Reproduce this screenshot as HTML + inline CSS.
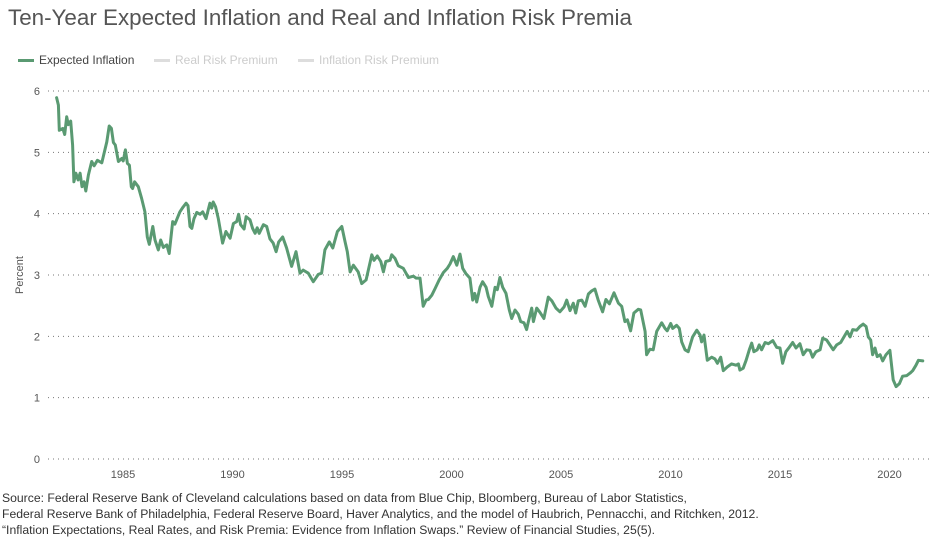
<!DOCTYPE html>
<html><head><meta charset="utf-8"><style>
body{margin:0;background:#fff;font-family:"Liberation Sans",Arial,sans-serif}
#wrap{position:relative;width:950px;height:540px;overflow:hidden}
.t{position:absolute;white-space:nowrap}
</style></head><body>
<div id="wrap">
<div class="t" style="left:8px;top:5px;font-size:22.4px;color:#555">Ten-Year Expected Inflation and Real and Inflation Risk Premia</div>
<div class="t" style="left:18px;top:53px;font-size:12px;color:#444"><span style="display:inline-block;width:16px;height:3px;background:#5a9a72;vertical-align:middle;margin-right:5px"></span>Expected Inflation</div>
<div class="t" style="left:154px;top:53px;font-size:12px;color:#ccc"><span style="display:inline-block;width:16px;height:3px;background:#ddd;vertical-align:middle;margin-right:5px"></span>Real Risk Premium</div>
<div class="t" style="left:298px;top:53px;font-size:12px;color:#ccc"><span style="display:inline-block;width:16px;height:3px;background:#ddd;vertical-align:middle;margin-right:5px"></span>Inflation Risk Premium</div>
<svg id="chart" width="950" height="540" style="position:absolute;left:0;top:0"></svg>
<div class="t" style="left:2px;top:490px;font-size:12.2px;line-height:16px;color:#333">Source: Federal Reserve Bank of Cleveland calculations based on data from Blue Chip, Bloomberg, Bureau of Labor Statistics,<br>Federal Reserve Bank of Philadelphia, Federal Reserve Board, Haver Analytics, and the model of Haubrich, Pennacchi, and Ritchken, 2012.<br>“Inflation Expectations, Real Rates, and Risk Premia: Evidence from Inflation Swaps.” Review of Financial Studies, 25(5).</div>
</div>
<script>
const years=[1981.97,1982.05,1982.09,1982.25,1982.34,1982.43,1982.50,1982.61,1982.70,1982.76,1982.85,1982.95,1983.04,1983.13,1983.22,1983.30,1983.42,1983.57,1983.68,1983.83,1984.03,1984.26,1984.37,1984.47,1984.56,1984.65,1984.79,1984.94,1985.01,1985.11,1985.20,1985.29,1985.38,1985.44,1985.53,1985.70,1985.85,1986.00,1986.11,1986.20,1986.36,1986.46,1986.61,1986.72,1986.84,1987.00,1987.11,1987.27,1987.37,1987.60,1987.75,1987.88,1987.97,1988.06,1988.14,1988.24,1988.37,1988.52,1988.64,1988.79,1988.97,1989.05,1989.12,1989.23,1989.35,1989.55,1989.70,1989.89,1990.04,1990.19,1990.28,1990.37,1990.53,1990.62,1990.80,1990.92,1991.03,1991.13,1991.22,1991.41,1991.56,1991.71,1991.86,1991.99,1992.11,1992.29,1992.47,1992.70,1992.90,1993.08,1993.23,1993.46,1993.69,1993.92,1994.07,1994.22,1994.42,1994.58,1994.79,1994.99,1995.14,1995.24,1995.37,1995.52,1995.74,1995.90,1996.10,1996.36,1996.46,1996.61,1996.77,1996.89,1997.00,1997.19,1997.27,1997.42,1997.57,1997.80,1998.03,1998.26,1998.38,1998.56,1998.71,1998.84,1998.94,1999.10,1999.25,1999.44,1999.63,1999.81,1999.93,2000.08,2000.24,2000.39,2000.51,2000.66,2000.84,2000.97,2001.06,2001.15,2001.30,2001.42,2001.58,2001.68,2001.84,2001.99,2002.09,2002.21,2002.34,2002.49,2002.64,2002.75,2002.90,2003.05,2003.16,2003.31,2003.43,2003.51,2003.66,2003.74,2003.89,2004.04,2004.22,2004.42,2004.58,2004.77,2004.95,2005.14,2005.26,2005.41,2005.56,2005.67,2005.79,2005.95,2006.10,2006.25,2006.40,2006.55,2006.70,2006.90,2007.05,2007.21,2007.42,2007.62,2007.77,2007.92,2008.03,2008.18,2008.33,2008.53,2008.64,2008.84,2008.91,2009.06,2009.21,2009.37,2009.60,2009.75,2009.85,2010.01,2010.10,2010.28,2010.40,2010.51,2010.66,2010.81,2011.01,2011.20,2011.35,2011.42,2011.53,2011.68,2011.88,2012.03,2012.14,2012.29,2012.41,2012.59,2012.79,2012.99,2013.10,2013.17,2013.32,2013.45,2013.60,2013.71,2013.81,2013.96,2014.05,2014.16,2014.32,2014.47,2014.67,2014.85,2015.00,2015.12,2015.27,2015.42,2015.58,2015.73,2015.91,2016.06,2016.22,2016.37,2016.49,2016.64,2016.83,2016.95,2017.13,2017.28,2017.43,2017.59,2017.77,2017.97,2018.07,2018.20,2018.32,2018.50,2018.65,2018.80,2018.93,2019.03,2019.14,2019.23,2019.34,2019.44,2019.57,2019.69,2019.84,2020.02,2020.17,2020.30,2020.45,2020.60,2020.79,2020.94,2021.06,2021.21,2021.32,2021.52];
const expectedInflation=[5.89,5.77,5.36,5.39,5.29,5.58,5.45,5.51,5.12,4.52,4.66,4.55,4.66,4.44,4.52,4.37,4.63,4.85,4.78,4.87,4.83,5.17,5.43,5.39,5.16,5.12,4.85,4.90,4.86,5.04,4.82,4.79,4.44,4.41,4.52,4.44,4.25,4.03,3.62,3.50,3.79,3.57,3.41,3.57,3.45,3.49,3.35,3.87,3.83,4.03,4.11,4.17,4.13,3.79,3.76,3.92,4.02,3.99,4.03,3.92,4.17,4.09,4.19,4.11,3.92,3.52,3.71,3.60,3.84,3.87,3.99,3.82,3.75,3.95,3.90,3.76,3.68,3.77,3.68,3.82,3.79,3.59,3.52,3.38,3.54,3.62,3.44,3.14,3.38,3.03,3.08,3.03,2.89,3.01,3.03,3.41,3.54,3.44,3.71,3.79,3.54,3.38,3.05,3.16,3.05,2.86,2.92,3.33,3.24,3.31,3.22,3.05,3.22,3.24,3.33,3.27,3.15,3.11,2.96,2.98,2.95,2.95,2.49,2.59,2.60,2.67,2.78,2.92,3.04,3.11,3.18,3.30,3.16,3.34,3.11,3.02,2.95,2.59,2.70,2.56,2.80,2.89,2.80,2.65,2.49,2.80,2.76,2.96,2.80,2.70,2.43,2.29,2.43,2.36,2.24,2.22,2.11,2.24,2.46,2.24,2.46,2.39,2.29,2.64,2.58,2.46,2.40,2.48,2.59,2.42,2.54,2.38,2.58,2.59,2.49,2.69,2.74,2.77,2.59,2.40,2.60,2.53,2.71,2.54,2.49,2.24,2.27,2.09,2.38,2.44,2.43,2.08,1.70,1.79,1.78,2.08,2.22,2.13,2.09,2.21,2.13,2.18,2.13,1.91,1.78,1.75,1.99,2.10,2.02,1.91,2.02,1.61,1.66,1.63,1.56,1.66,1.44,1.50,1.55,1.53,1.55,1.45,1.48,1.61,1.78,1.89,1.75,1.78,1.86,1.78,1.90,1.88,1.93,1.82,1.81,1.56,1.75,1.82,1.90,1.81,1.88,1.70,1.78,1.77,1.66,1.75,1.78,1.97,1.94,1.86,1.78,1.86,1.90,2.02,2.08,1.99,2.11,2.10,2.16,2.20,2.16,1.99,1.94,1.70,1.81,1.67,1.70,1.60,1.70,1.77,1.29,1.18,1.23,1.35,1.36,1.40,1.44,1.53,1.61,1.60];
const yTicks=[0,1,2,3,4,5,6];
const xTicks=[1985,1990,1995,2000,2005,2010,2015,2020];
const NS='http://www.w3.org/2000/svg';
const svg=document.getElementById('chart');
const X=y=>123+(y-1985)*21.9;
const Y=v=>459-v*61.333;
function mk(tag,attrs){const e=document.createElementNS(NS,tag);for(const k in attrs)e.setAttribute(k,attrs[k]);svg.appendChild(e);return e;}
yTicks.forEach(t=>{
  const g=mk('line',{x1:48,x2:930,y1:Y(t),y2:Y(t),stroke:'#777','stroke-width':1,'stroke-dasharray':'1,4'});
  
  
  const l=mk('text',{x:40,y:Y(t)+4,'text-anchor':'end','font-size':11,fill:'#555','font-family':'Liberation Sans, sans-serif'});
  l.textContent=t;
  
  
});
xTicks.forEach(t=>{
  const l=mk('text',{x:X(t),y:478,'text-anchor':'middle','font-size':11,fill:'#555','font-family':'Liberation Sans, sans-serif'});
  l.textContent=t;
  
  
});
const yt=mk('text',{x:0,y:0,transform:'translate(23,275) rotate(-90)','text-anchor':'middle','font-size':11,fill:'#555','font-family':'Liberation Sans, sans-serif'});
yt.textContent='Percent';


const d=years.map((yr,i)=>(i?'L':'M')+X(yr).toFixed(1)+','+Y(expectedInflation[i]).toFixed(1)).join('');
const p=mk('path',{d:d,fill:'none',stroke:'#5a9a72','stroke-width':3,'stroke-linejoin':'round','stroke-linecap':'round'});


</script>
</body></html>
